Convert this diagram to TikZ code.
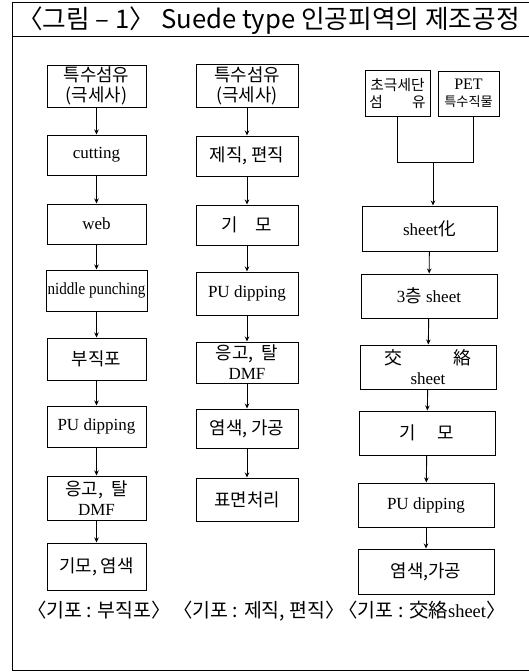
\documentclass[tikz,border=0pt]{standalone}
\usepackage{fontspec}
\setmainfont{Liberation Serif}
\newfontfamily\kr{Noto Sans CJK KR}[Scale=1.05]
\newfontfamily\krt{Noto Sans CJK KR}
\usetikzlibrary{arrows.meta}
\tikzset{
  box/.style={draw, line width=1pt, inner sep=0pt, align=center, font=\fontsize{17}{20}\selectfont},
  flow/.style={line width=0.9pt, -{Stealth[length=5pt,width=4.5pt]}},
  plain/.style={line width=0.9pt},
  foottext/.style={anchor=base, inner sep=0pt, font=\fontsize{18.5}{20}\selectfont},
}
\begin{document}
\begin{tikzpicture}[x=1pt,y=-1pt]
\useasboundingbox (0,0) rectangle (529,672);
% frame
\draw[line width=1pt] (529,2) -- (12,2) -- (12,670) -- (529,670);
\draw[line width=1pt] (12,36) -- (529,36);
\node[anchor=base west, inner sep=0pt, font=\krt\fontsize{25.7}{27}\selectfont] (title) at (17,28) {〈그림 – 1〉 Suede type 인공피역의 제조공정};

% column 1
\node[box, minimum width=99pt, minimum height=42pt] (a1) at (96.5,86) {{\kr 특수섬유}\\{\kr (극세사)}};
\node[box, minimum width=99pt, minimum height=40pt] (a2) at (96.5,155) {cutting};
\node[box, minimum width=99pt, minimum height=40pt] (a3) at (96.5,224) {web};
\node[box, minimum width=101pt, minimum height=41pt] (a4) at (96.5,290.5) {\scalebox{0.89}[1]{niddle punching}};
\node[box, minimum width=99pt, minimum height=42pt] (a5) at (96.5,359) {\kr 부직포};
\node[box, minimum width=99pt, minimum height=41pt] (a6) at (96.5,426.5) {PU dipping};
\node[box, minimum width=99pt, minimum height=44pt] (a7) at (96.5,498) {{\kr 응고,\ \ 탈}\\DMF};
\node[box, minimum width=99pt, minimum height=47pt] (a8) at (96.5,566.5) {\kr 기모, 염색};
\foreach \i/\j in {a1/a2,a2/a3,a3/a4,a4/a5,a5/a6,a6/a7,a7/a8}
  \draw[flow] (\i) -- (\j);

% column 2
\node[box, minimum width=102pt, minimum height=43pt] (b1) at (247,85.5) {{\kr 특수섬유}\\{\kr (극세사)}};
\node[box, minimum width=102pt, minimum height=40pt] (b2) at (247,156) {\kr 제직, 편직};
\node[box, minimum width=102pt, minimum height=40pt] (b3) at (247,225) {\kr 기\quad 모};
\node[box, minimum width=102pt, minimum height=43pt] (b4) at (247,293.5) {PU\ dipping};
\node[box, minimum width=102pt, minimum height=41pt] (b5) at (247,362.5) {{\kr 응고,\ \ 탈}\\DMF};
\node[box, minimum width=102pt, minimum height=39pt] (b6) at (247,428.5) {\kr 염색, 가공};
\node[box, minimum width=102pt, minimum height=43pt] (b7) at (247,499.5) {\kr 표면처리};
\foreach \i/\j in {b1/b2,b2/b3,b3/b4,b4/b5,b5/b6,b6/b7}
  \draw[flow] (\i) -- (\j);

% column 3
\node[box, minimum width=65pt, minimum height=46pt, font=\fontsize{14}{17}\selectfont] (c1) at (397.5,93) {{\kr 초극세단}\\{\kr 섬\qquad 유}};
\node[box, minimum width=61pt, minimum height=45pt, font=\fontsize{16}{17}\selectfont] (c2) at (468.5,93.5) {PET\\{\kr\fontsize{12.5}{14}\selectfont 특수직물}};
\coordinate (j) at (433,162);
\draw[plain] (c1.south) |- (j);
\draw[plain] ([xshift=5pt]c2.south) |- (j);
\node[box, minimum width=135pt, minimum height=45pt] (d1) at (429.5,228.5) {sheet{\kr 化}};
\node[box, minimum width=136pt, minimum height=44pt] (d2) at (429,296) {3{\kr 층} sheet};
\node[box, minimum width=136pt, minimum height=44pt] (d3) at (428,367) {{\kr 交}\hspace{3em}{\kr 絡}\\sheet};
\node[box, minimum width=136pt, minimum height=44pt] (d4) at (427,433) {\kr 기\quad\ 모};
\node[box, minimum width=136pt, minimum height=44pt] (d5) at (426,505) {PU dipping};
\node[box, minimum width=136pt, minimum height=45pt] (d6) at (426,571.5) {\kr 염색,가공};
\draw[flow] (j) -- (j |- d1.north);
\foreach \i/\j in {d1/d2,d2/d3,d3/d4,d4/d5,d5/d6}
  \draw[flow] (\i) -- (\j);

% footer
\node[foottext] (f1) at (99,617) {\kr 〈기포 : 부직포〉};
\node[foottext] (f2) at (259,617) {\kr 〈기포 : 제직, 편직〉};
\node[foottext] (f3) at (422,617) {{\kr 〈기포 : 交絡}sheet{\kr 〉}};
\end{tikzpicture}
\end{document}
